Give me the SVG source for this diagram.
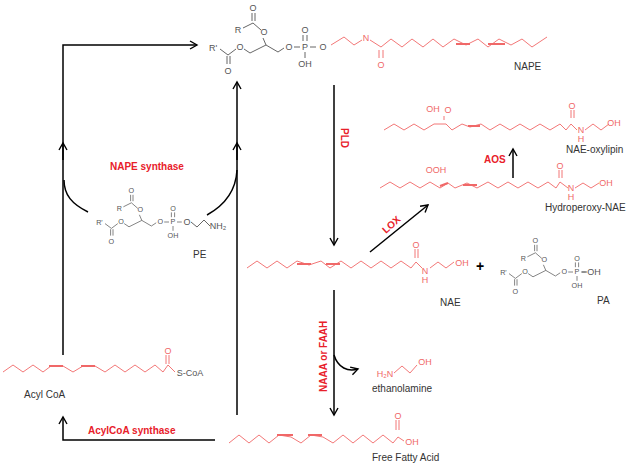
<svg xmlns="http://www.w3.org/2000/svg" xmlns:xlink="http://www.w3.org/1999/xlink" width="629" height="467" viewBox="0 0 629 467">
<style>
.g{stroke:#555;stroke-width:0.9;fill:none}
.r{stroke:#f06868;stroke-width:0.9;fill:none}
.rd{stroke:#f06868;stroke-width:2;fill:none}
.k{stroke:#000;stroke-width:1.5;fill:none}
.gt{font-family:"Liberation Sans",Arial,sans-serif;font-size:9px;fill:#555;text-anchor:middle}
.rt{font-family:"Liberation Sans",Arial,sans-serif;font-size:9px;fill:#f06868;text-anchor:middle}
.lb{font-family:"Liberation Sans",Arial,sans-serif;font-size:10px;fill:#333}
.en{font-family:"Liberation Sans",Arial,sans-serif;font-size:10px;fill:#e8202a;font-weight:bold}
</style>
<defs>
<marker id="ah" markerWidth="10" markerHeight="10" refX="8" refY="5" orient="auto" markerUnits="userSpaceOnUse"><path d="M1,1 L8,5 L1,9" stroke="#000" stroke-width="1.4" fill="none"/></marker>
<g id="gly">
<text class="gt" x="3" y="4" font-size="10">R'</text>
<path class="g" d="M10,2 L18,8 M17,9 V17 M20,9 V17 M18,8 L26,2 M34,2 L40,6 L56,-2 L68,5 L74,1 M84,0 H90 M100,0 H106 M93,-12 V-6 M97,-12 V-6 M95,5 V11 M56,-2 L53,-9 M51,-17 L43,-24 L33,-19 M42,-34 V-26 M45,-34 V-26"/>
<text class="gt" x="18" y="27">O</text><text class="gt" x="30" y="3">O</text><text class="gt" x="79" y="3">O</text>
<text class="gt" x="95" y="3">P</text><text class="gt" x="95" y="-14">O</text><text class="gt" x="95" y="20">OH</text>
<text class="gt" x="54" y="-12">O</text><text class="gt" x="43" y="-36">O</text><text class="gt" x="28" y="-14" font-size="10">R</text>
</g>
</defs>

<g id="connectors">
<path class="k" d="M63,355 V45 H197" marker-end="url(#ah)"/>
<path class="k" d="M63,160 V143" marker-end="url(#ah)"/>
<path class="k" d="M237,415 V82" marker-end="url(#ah)"/>
<path class="k" d="M237,160 V143" marker-end="url(#ah)"/>
<path class="k" d="M88,212 C72,204 64,195 64,180"/>
<path class="k" d="M207,215 C225,205 236,190 237,170"/>
<path class="k" d="M334,85 V245" marker-end="url(#ah)"/>
<path class="k" d="M370,252 L428,205" marker-end="url(#ah)"/>
<path class="k" d="M513,178 V149" marker-end="url(#ah)"/>
<path class="k" d="M334,290 V415" marker-end="url(#ah)"/>
<path class="k" d="M334,355 C338,368 348,372 358,369" marker-end="url(#ah)"/>
<path class="k" d="M215,440 H63 V417" marker-end="url(#ah)"/>
</g>

<g id="labels">
<text class="en" x="110" y="170">NAPE synthase</text>
<text class="en" x="88" y="434">AcylCoA synthase</text>
<text class="en" transform="translate(341,128) rotate(90)">PLD</text>
<text class="en" transform="translate(386,234) rotate(-42)">LOX</text>
<text class="en" x="484" y="163">AOS</text>
<text class="en" transform="translate(327,392) rotate(-90)">NAAA or FAAH</text>
</g>

<g id="nape">
<use xlink:href="#gly" x="210" y="47"/>
<text class="gt" x="323" y="50">O</text>
<path class="r" d="M331,45 L344,37 L354,45 L362,40 M370,40 L381,47 L391,39 L402,47 L412,39 L423,47 L433,39 L443,47 L454,39 L466,45 L478,39 L488,47 L499,39 L511,45 L522,39 L532,47 L547,37 M379,50 V58 M383,50 V58"/>
<path class="rd" d="M456,44 H470 M488,44 H505"/>
<text class="rt" x="366" y="41">N</text><text class="rt" x="381" y="68">O</text>
<text class="lb" x="514" y="70">NAPE</text>
</g>

<g id="pe">
<use xlink:href="#gly" transform="translate(97,222) scale(0.8)"/>
<text class="gt" x="187" y="225" font-size="7.5">O</text>
<path class="g" d="M191,222 L197,227 L204,220 L210,226"/>
<text class="gt" x="218" y="229" font-size="6.5">NH₂</text>
<text class="lb" x="193" y="258">PE</text>
</g>

<g id="nae">
<path class="r" d="M247,268 L257,261 L267,268 L277,261 L287,268 L297,261 L309,265 L321,261 L330,268 L341,261 L351,268 L361,261 L371,268 L381,261 L391,268 L401,261 L411,268 L416,262 L422,268 M415,249 V258 M418,249 V258 M430,268 L438,262 L446,268 L454,262"/>
<path class="rd" d="M297,264 H311 M326,264 H340"/>
<text class="rt" x="416" y="248">O</text><text class="rt" x="425" y="274">N</text><text class="rt" x="425" y="283">H</text><text class="rt" x="462" y="266">OH</text>
<text class="lb" x="440" y="306">NAE</text>
<text x="476" y="271" font-family="Liberation Sans,Arial,sans-serif" font-size="14" font-weight="bold" fill="#000">+</text>
</g>

<g id="pa">
<use xlink:href="#gly" transform="translate(501,272) scale(0.8)"/>
<path class="g" d="M582,272 H587"/>
<text class="gt" x="594" y="275" font-size="7.5">OH</text>
<text class="lb" x="597" y="304">PA</text>
</g>

<g id="hpnae">
<path class="r" d="M380,188 L390,182 L400,188 L410,182 L420,188 L430,182 L440,188 L448,183 L455,188 L467,183 L477,188 L488,182 L498,188 L508,182 L518,188 L528,182 L538,188 L548,182 L556,188 L560,182 L568,188 M559,170 V178 M562,170 V178 M575,188 L583,183 L591,188 L599,183"/>
<path class="rd" d="M440,186 L448,183 M463,185 H477"/>
<text class="rt" x="436" y="173">OOH</text><text class="rt" x="560" y="169">O</text><text class="rt" x="571" y="191">N</text><text class="rt" x="571" y="200">H</text><text class="rt" x="606" y="186">OH</text>
<text class="lb" x="545" y="211">Hydroperoxy-NAE</text>
</g>

<g id="oxylipin">
<path class="r" d="M384,130 L394,124 L404,130 L414,124 L424,130 L434,124 L446,124 L452,130 L462,124 L470,127 L481,124 L490,130 L500,124 L510,130 L520,124 L530,130 L540,124 L550,130 L560,124 L566,130 L571,124 L577,130 M444,116 V120 M571,110 V118 M574,110 V118 M585,130 L593,124 L601,130 L609,124"/>
<path class="rd" d="M468,126 H480"/>
<text class="rt" x="433" y="112">OH</text><text class="rt" x="448" y="113">O</text><text class="rt" x="572" y="109">O</text><text class="rt" x="581" y="133">N</text><text class="rt" x="581" y="142">H</text><text class="rt" x="614" y="126">OH</text>
<text class="lb" x="566" y="153">NAE-oxylipin</text>
</g>

<g id="ethanolamine">
<path class="r" d="M394,373 L402,366 L410,373 L417,365"/>
<text class="rt" x="385" y="377">H₂N</text><text class="rt" x="425" y="365">OH</text>
<text class="lb" x="372" y="392">ethanolamine</text>
</g>

<g id="ffa">
<path class="r" d="M229,443 L239,435 L249,443 L259,435 L269,443 L279,435 L291,437 L301,443 L311,435 L323,437 L333,443 L343,435 L353,443 L363,435 L373,443 L383,435 L393,443 L398,437 L404,441 M396,420 V430 M399,420 V430"/>
<path class="rd" d="M277,435 H293 M308,435 H322"/>
<text class="rt" x="398" y="419">O</text><text class="rt" x="412" y="445">OH</text>
<text class="lb" x="372" y="461">Free Fatty Acid</text>
</g>

<g id="acylcoa">
<path class="r" d="M3,372 L13,365 L23,372 L33,365 L43,372 L51,366 L63,366 L73,372 L83,366 L95,366 L105,372 L115,365 L125,372 L135,365 L145,372 L155,365 L163,372 L168,365 L175,372 M166,355 V364 M169,355 V364"/>
<path class="rd" d="M49,366 H63 M81,366 H95"/>
<text class="rt" x="168" y="354">O</text>
<text class="gt" x="190" y="376" font-size="8.5">S-CoA</text>
<text class="lb" x="24" y="398">Acyl CoA</text>
</g>
</svg>
